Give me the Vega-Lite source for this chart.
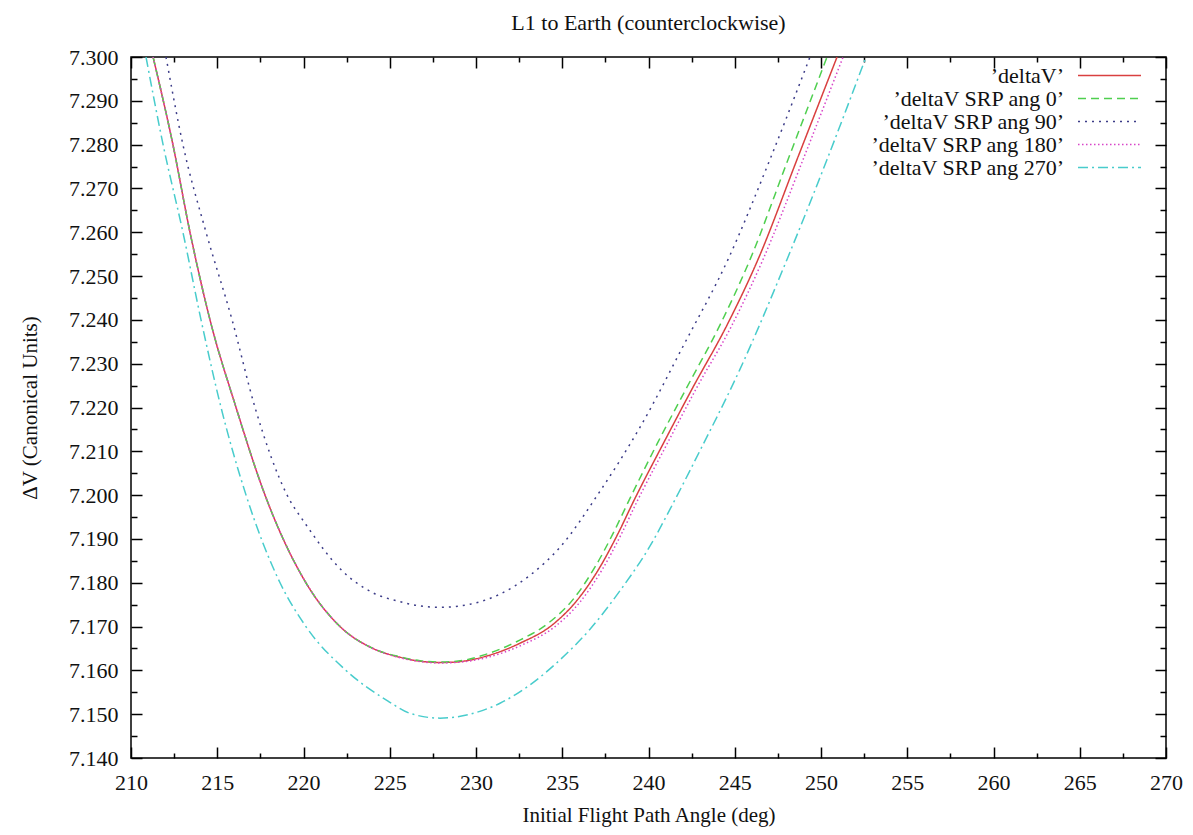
{
  "$schema": "https://vega.github.io/schema/vega-lite/v6.json",
  "width": 1035,
  "height": 701,
  "autosize": {"type": "none"},
  "padding": {"left": 131, "top": 57, "right": 27, "bottom": 77},
  "background": "white",
  "title": {"text": "L1 to Earth (counterclockwise)", "font": "Liberation Serif", "fontSize": 22, "fontWeight": "normal", "color": "#111", "offset": 11},
  "config": {"view": {"stroke": "black", "strokeWidth": 1.5}, "font": "Liberation Serif"},
  "datasets": {
    "curves": [
      {"series": "’deltaV’", "x": 211.28, "y": 7.300},
      {"series": "’deltaV’", "x": 212.43, "y": 7.280},
      {"series": "’deltaV’", "x": 213.42, "y": 7.260},
      {"series": "’deltaV’", "x": 214.58, "y": 7.240},
      {"series": "’deltaV’", "x": 216.09, "y": 7.220},
      {"series": "’deltaV’", "x": 217.77, "y": 7.200},
      {"series": "’deltaV’", "x": 220.14, "y": 7.180},
      {"series": "’deltaV’", "x": 222.12, "y": 7.170},
      {"series": "’deltaV’", "x": 224.03, "y": 7.165},
      {"series": "’deltaV’", "x": 225.59, "y": 7.1630},
      {"series": "’deltaV’", "x": 226.75, "y": 7.1621},
      {"series": "’deltaV’", "x": 227.91, "y": 7.1618},
      {"series": "’deltaV’", "x": 228.78, "y": 7.1619},
      {"series": "’deltaV’", "x": 230.64, "y": 7.1633},
      {"series": "’deltaV’", "x": 232.55, "y": 7.1662},
      {"series": "’deltaV’", "x": 234.46, "y": 7.1705},
      {"series": "’deltaV’", "x": 235.86, "y": 7.1760},
      {"series": "’deltaV’", "x": 237.19, "y": 7.1836},
      {"series": "’deltaV’", "x": 238.23, "y": 7.1912},
      {"series": "’deltaV’", "x": 239.16, "y": 7.1988},
      {"series": "’deltaV’", "x": 240.90, "y": 7.2121},
      {"series": "’deltaV’", "x": 242.52, "y": 7.2242},
      {"series": "’deltaV’", "x": 244.55, "y": 7.2388},
      {"series": "’deltaV’", "x": 246.35, "y": 7.2538},
      {"series": "’deltaV’", "x": 248.61, "y": 7.2766},
      {"series": "’deltaV’", "x": 250.93, "y": 7.300},

      {"series": "’deltaV SRP ang 0’", "x": 211.28, "y": 7.300},
      {"series": "’deltaV SRP ang 0’", "x": 212.43, "y": 7.280},
      {"series": "’deltaV SRP ang 0’", "x": 213.42, "y": 7.260},
      {"series": "’deltaV SRP ang 0’", "x": 214.58, "y": 7.240},
      {"series": "’deltaV SRP ang 0’", "x": 216.09, "y": 7.220},
      {"series": "’deltaV SRP ang 0’", "x": 217.77, "y": 7.200},
      {"series": "’deltaV SRP ang 0’", "x": 220.14, "y": 7.180},
      {"series": "’deltaV SRP ang 0’", "x": 222.12, "y": 7.170},
      {"series": "’deltaV SRP ang 0’", "x": 224.03, "y": 7.165},
      {"series": "’deltaV SRP ang 0’", "x": 225.59, "y": 7.1631},
      {"series": "’deltaV SRP ang 0’", "x": 226.75, "y": 7.1622},
      {"series": "’deltaV SRP ang 0’", "x": 227.91, "y": 7.1619},
      {"series": "’deltaV SRP ang 0’", "x": 228.72, "y": 7.1620},
      {"series": "’deltaV SRP ang 0’", "x": 230.52, "y": 7.1636},
      {"series": "’deltaV SRP ang 0’", "x": 232.38, "y": 7.1666},
      {"series": "’deltaV SRP ang 0’", "x": 234.23, "y": 7.1709},
      {"series": "’deltaV SRP ang 0’", "x": 235.63, "y": 7.1762},
      {"series": "’deltaV SRP ang 0’", "x": 236.90, "y": 7.1836},
      {"series": "’deltaV SRP ang 0’", "x": 237.94, "y": 7.1912},
      {"series": "’deltaV SRP ang 0’", "x": 238.87, "y": 7.1988},
      {"series": "’deltaV SRP ang 0’", "x": 240.55, "y": 7.2121},
      {"series": "’deltaV SRP ang 0’", "x": 242.17, "y": 7.2242},
      {"series": "’deltaV SRP ang 0’", "x": 244.14, "y": 7.2388},
      {"series": "’deltaV SRP ang 0’", "x": 245.89, "y": 7.2538},
      {"series": "’deltaV SRP ang 0’", "x": 248.09, "y": 7.2766},
      {"series": "’deltaV SRP ang 0’", "x": 250.35, "y": 7.300},

      {"series": "’deltaV SRP ang 90’", "x": 212.03, "y": 7.300},
      {"series": "’deltaV SRP ang 90’", "x": 213.01, "y": 7.280},
      {"series": "’deltaV SRP ang 90’", "x": 214.35, "y": 7.260},
      {"series": "’deltaV SRP ang 90’", "x": 215.86, "y": 7.240},
      {"series": "’deltaV SRP ang 90’", "x": 217.19, "y": 7.220},
      {"series": "’deltaV SRP ang 90’", "x": 219.05, "y": 7.200},
      {"series": "’deltaV SRP ang 90’", "x": 220.14, "y": 7.1933},
      {"series": "’deltaV SRP ang 90’", "x": 222.12, "y": 7.1832},
      {"series": "’deltaV SRP ang 90’", "x": 224.03, "y": 7.1777},
      {"series": "’deltaV SRP ang 90’", "x": 225.59, "y": 7.1757},
      {"series": "’deltaV SRP ang 90’", "x": 226.75, "y": 7.1747},
      {"series": "’deltaV SRP ang 90’", "x": 227.91, "y": 7.1744},
      {"series": "’deltaV SRP ang 90’", "x": 229.65, "y": 7.1751},
      {"series": "’deltaV SRP ang 90’", "x": 231.39, "y": 7.1774},
      {"series": "’deltaV SRP ang 90’", "x": 233.13, "y": 7.1817},
      {"series": "’deltaV SRP ang 90’", "x": 234.87, "y": 7.1881},
      {"series": "’deltaV SRP ang 90’", "x": 237.19, "y": 7.2009},
      {"series": "’deltaV SRP ang 90’", "x": 239.51, "y": 7.2155},
      {"series": "’deltaV SRP ang 90’", "x": 242.06, "y": 7.2344},
      {"series": "’deltaV SRP ang 90’", "x": 244.61, "y": 7.2538},
      {"series": "’deltaV SRP ang 90’", "x": 247.04, "y": 7.2766},
      {"series": "’deltaV SRP ang 90’", "x": 249.36, "y": 7.300},

      {"series": "’deltaV SRP ang 180’", "x": 211.28, "y": 7.300},
      {"series": "’deltaV SRP ang 180’", "x": 212.43, "y": 7.280},
      {"series": "’deltaV SRP ang 180’", "x": 213.42, "y": 7.260},
      {"series": "’deltaV SRP ang 180’", "x": 214.58, "y": 7.240},
      {"series": "’deltaV SRP ang 180’", "x": 216.09, "y": 7.220},
      {"series": "’deltaV SRP ang 180’", "x": 217.77, "y": 7.200},
      {"series": "’deltaV SRP ang 180’", "x": 220.14, "y": 7.180},
      {"series": "’deltaV SRP ang 180’", "x": 222.12, "y": 7.170},
      {"series": "’deltaV SRP ang 180’", "x": 224.03, "y": 7.165},
      {"series": "’deltaV SRP ang 180’", "x": 225.59, "y": 7.1629},
      {"series": "’deltaV SRP ang 180’", "x": 226.75, "y": 7.1620},
      {"series": "’deltaV SRP ang 180’", "x": 227.91, "y": 7.1617},
      {"series": "’deltaV SRP ang 180’", "x": 228.84, "y": 7.1618},
      {"series": "’deltaV SRP ang 180’", "x": 230.70, "y": 7.1630},
      {"series": "’deltaV SRP ang 180’", "x": 232.67, "y": 7.1658},
      {"series": "’deltaV SRP ang 180’", "x": 234.58, "y": 7.1700},
      {"series": "’deltaV SRP ang 180’", "x": 236.03, "y": 7.1756},
      {"series": "’deltaV SRP ang 180’", "x": 237.36, "y": 7.1833},
      {"series": "’deltaV SRP ang 180’", "x": 238.40, "y": 7.1909},
      {"series": "’deltaV SRP ang 180’", "x": 239.33, "y": 7.1985},
      {"series": "’deltaV SRP ang 180’", "x": 241.13, "y": 7.2121},
      {"series": "’deltaV SRP ang 180’", "x": 242.75, "y": 7.2242},
      {"series": "’deltaV SRP ang 180’", "x": 244.84, "y": 7.2388},
      {"series": "’deltaV SRP ang 180’", "x": 246.64, "y": 7.2538},
      {"series": "’deltaV SRP ang 180’", "x": 248.96, "y": 7.2766},
      {"series": "’deltaV SRP ang 180’", "x": 251.28, "y": 7.300},

      {"series": "’deltaV SRP ang 270’", "x": 210.87, "y": 7.300},
      {"series": "’deltaV SRP ang 270’", "x": 211.86, "y": 7.280},
      {"series": "’deltaV SRP ang 270’", "x": 213.01, "y": 7.260},
      {"series": "’deltaV SRP ang 270’", "x": 214.06, "y": 7.240},
      {"series": "’deltaV SRP ang 270’", "x": 215.22, "y": 7.220},
      {"series": "’deltaV SRP ang 270’", "x": 216.67, "y": 7.200},
      {"series": "’deltaV SRP ang 270’", "x": 218.64, "y": 7.180},
      {"series": "’deltaV SRP ang 270’", "x": 220.14, "y": 7.170},
      {"series": "’deltaV SRP ang 270’", "x": 222.46, "y": 7.160},
      {"series": "’deltaV SRP ang 270’", "x": 224.90, "y": 7.1530},
      {"series": "’deltaV SRP ang 270’", "x": 226.17, "y": 7.1502},
      {"series": "’deltaV SRP ang 270’", "x": 227.91, "y": 7.1491},
      {"series": "’deltaV SRP ang 270’", "x": 229.65, "y": 7.1500},
      {"series": "’deltaV SRP ang 270’", "x": 231.39, "y": 7.1525},
      {"series": "’deltaV SRP ang 270’", "x": 233.13, "y": 7.1567},
      {"series": "’deltaV SRP ang 270’", "x": 234.87, "y": 7.1624},
      {"series": "’deltaV SRP ang 270’", "x": 236.61, "y": 7.1694},
      {"series": "’deltaV SRP ang 270’", "x": 238.35, "y": 7.1782},
      {"series": "’deltaV SRP ang 270’", "x": 240.09, "y": 7.1884},
      {"series": "’deltaV SRP ang 270’", "x": 241.25, "y": 7.1968},
      {"series": "’deltaV SRP ang 270’", "x": 242.99, "y": 7.2102},
      {"series": "’deltaV SRP ang 270’", "x": 245.30, "y": 7.2287},
      {"series": "’deltaV SRP ang 270’", "x": 248.03, "y": 7.2538},
      {"series": "’deltaV SRP ang 270’", "x": 250.35, "y": 7.2766},
      {"series": "’deltaV SRP ang 270’", "x": 252.61, "y": 7.300}
    ]
  },
  "data": {"name": "curves"},
  "layer": [
    {
      "mark": {"type": "line", "interpolate": "monotone", "strokeWidth": 1.5, "clip": true},
      "encoding": {
        "x": {
          "field": "x", "type": "quantitative",
          "scale": {"domain": [210, 270], "nice": false, "zero": false},
          "axis": {
            "orient": "bottom",
            "values": [210, 212.5, 215, 217.5, 220, 222.5, 225, 227.5, 230, 232.5, 235, 237.5, 240, 242.5, 245, 247.5, 250, 252.5, 255, 257.5, 260, 262.5, 265, 267.5, 270],
            "labelExpr": "datum.value % 5 === 0 ? format(datum.value, 'd') : ''",
            "tickSize": {"condition": {"test": "datum.value % 5 === 0", "value": -11}, "value": -5},
            "tickColor": "black", "tickWidth": 1.5,
            "domain": false, "grid": false,
            "labelFont": "Liberation Serif", "labelFontSize": 22, "labelColor": "#111",
            "labelPadding": 25, "labelFlush": false, "labelOverlap": false,
            "title": "Initial Flight Path Angle (deg)",
            "titleFont": "Liberation Serif", "titleFontSize": 21, "titleFontWeight": "normal", "titleColor": "#111",
            "titlePadding": 5
          }
        },
        "y": {
          "field": "y", "type": "quantitative",
          "scale": {"domain": [7.14, 7.30], "nice": false, "zero": false},
          "axis": {
            "orient": "left",
            "values": [7.14, 7.145, 7.15, 7.155, 7.16, 7.165, 7.17, 7.175, 7.18, 7.185, 7.19, 7.195, 7.2, 7.205, 7.21, 7.215, 7.22, 7.225, 7.23, 7.235, 7.24, 7.245, 7.25, 7.255, 7.26, 7.265, 7.27, 7.275, 7.28, 7.285, 7.29, 7.295, 7.3],
            "labelExpr": "round(datum.value * 1000) % 10 === 0 ? format(datum.value, '.3f') : ''",
            "tickSize": {"condition": {"test": "round(datum.value * 1000) % 10 === 0", "value": -11}, "value": -6},
            "tickColor": "black", "tickWidth": 1.5,
            "domain": false, "grid": false,
            "labelFont": "Liberation Serif", "labelFontSize": 22, "labelColor": "#111",
            "labelPadding": 24, "labelFlush": false, "labelOverlap": false,
            "title": "ΔV (Canonical Units)",
            "titleFont": "Liberation Serif", "titleFontSize": 21, "titleFontWeight": "normal", "titleColor": "#111",
            "titlePadding": 28
          }
        },
        "color": {
          "field": "series", "type": "nominal",
          "scale": {
            "domain": ["’deltaV’", "’deltaV SRP ang 0’", "’deltaV SRP ang 90’", "’deltaV SRP ang 180’", "’deltaV SRP ang 270’"],
            "range": ["#d94040", "#4fcf4f", "#3c3c88", "#d845c8", "#48cccc"]
          },
          "legend": {
            "orient": "none", "legendX": 967, "legendY": 7,
            "title": null,
            "symbolType": "M-3,0H3", "symbolSize": 441, "symbolStrokeWidth": 1.5,
            "labelFont": "Liberation Serif", "labelFontSize": 22, "labelColor": "#111",
            "labelAlign": "right", "labelOffset": -57, "rowPadding": 0, "padding": 0,
            "labelLimit": 400
          }
        },
        "strokeDash": {
          "field": "series", "type": "nominal",
          "scale": {
            "domain": ["’deltaV’", "’deltaV SRP ang 0’", "’deltaV SRP ang 90’", "’deltaV SRP ang 180’", "’deltaV SRP ang 270’"],
            "range": [[1, 0], [8, 5], [2, 5], [1.5, 2.5], [10, 4, 2, 4]]
          },
          "legend": {
            "orient": "none", "legendX": 967, "legendY": 7,
            "title": null,
            "symbolType": "M-3,0H3", "symbolSize": 441, "symbolStrokeWidth": 1.5,
            "labelFont": "Liberation Serif", "labelFontSize": 22, "labelColor": "#111",
            "labelAlign": "right", "labelOffset": -57, "rowPadding": 0, "padding": 0,
            "labelLimit": 400
          }
        }
      }
    },
    {
      "mark": {"type": "line", "opacity": 0},
      "encoding": {
        "x": {
          "field": "x", "type": "quantitative",
          "axis": {
            "orient": "top",
            "values": [210, 212.5, 215, 217.5, 220, 222.5, 225, 227.5, 230, 232.5, 235, 237.5, 240, 242.5, 245, 247.5, 250, 252.5, 255, 257.5, 260, 262.5, 265, 267.5, 270],
            "labels": false, "title": null, "domain": false, "grid": false,
            "tickSize": {"condition": {"test": "datum.value % 5 === 0", "value": -11}, "value": -5},
            "tickColor": "black", "tickWidth": 1.5
          }
        },
        "y": {
          "field": "y", "type": "quantitative",
          "axis": {
            "orient": "right",
            "values": [7.14, 7.145, 7.15, 7.155, 7.16, 7.165, 7.17, 7.175, 7.18, 7.185, 7.19, 7.195, 7.2, 7.205, 7.21, 7.215, 7.22, 7.225, 7.23, 7.235, 7.24, 7.245, 7.25, 7.255, 7.26, 7.265, 7.27, 7.275, 7.28, 7.285, 7.29, 7.295, 7.3],
            "labels": false, "title": null, "domain": false, "grid": false,
            "tickSize": {"condition": {"test": "round(datum.value * 1000) % 10 === 0", "value": -11}, "value": -6},
            "tickColor": "black", "tickWidth": 1.5
          }
        },
        "detail": {"field": "series"}
      }
    }
  ]
}
